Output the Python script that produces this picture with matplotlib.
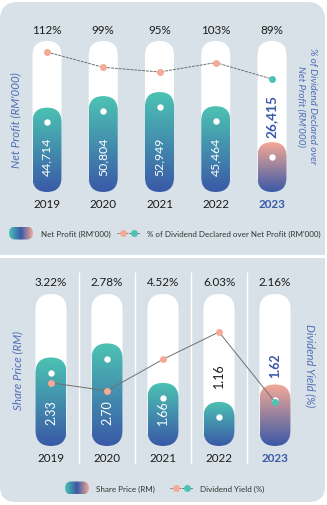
import matplotlib.pyplot as plt
import numpy as np
from matplotlib.colors import to_rgb
from matplotlib.patches import FancyBboxPatch, Rectangle

plt.rcParams['font.family'] = ['Lato', 'DejaVu Sans']

W, H = 327, 506

years = ['2019', '2020', '2021', '2022', '2023']
net_profit = [44714, 50804, 52949, 45464, 26415]
payout_pct = [112, 99, 95, 103, 89]
share_price = [2.33, 2.70, 1.66, 1.16, 1.62]
dividend_yield = [3.22, 2.78, 4.52, 6.03, 2.16]

PANEL = '#d7e1e7'
TEAL = '#4cc3b3'
BLUE = '#3a59a7'
SALMON = '#f5a996'
LABEL = '#4e6db7'
LINE = '#707070'
INK = '#1c1c1c'


def px_rect(x0, y0, x1, y1):
    return [x0 / W, 1 - y1 / H, (x1 - x0) / W, (y1 - y0) / H]


def data_per_px(ax):
    pos = ax.get_position()
    x0, x1 = ax.get_xlim()
    y0, y1 = ax.get_ylim()
    return (x1 - x0) / (pos.width * W), (y1 - y0) / (pos.height * H)


def capsule(ax, x, top, half_px, z, **kw):
    xu, yu = data_per_px(ax)
    hw = half_px * xu
    p = FancyBboxPatch((x - hw, 0), 2 * hw, top,
                       boxstyle=f'round,pad=0,rounding_size={hw}',
                       mutation_aspect=yu / xu, zorder=z, **kw)
    ax.add_patch(p)
    return p, hw, half_px * yu


def gradient_bar(ax, x, top, half_px, c_top, c_bot, z):
    p, hw, ry = capsule(ax, x, top, half_px, z, fc='none', ec='none')
    t = np.linspace(0, 1, 200)[:, None]
    img = (1 - t) * np.array(to_rgb(c_top)) + t * np.array(to_rgb(c_bot))
    im = ax.imshow(img[:, None, :], extent=(x - hw, x + hw, 0, top),
                   origin='upper', aspect='auto', zorder=z,
                   interpolation='bilinear')
    im.set_clip_path(p)
    ax.plot(x, top - ry, 'o', color='white', ms=4.6, mec='none', zorder=z + 1)
    return ry


def chart_axes(px_top, px_bottom, x_first, step, ymax):
    ax = fig.add_axes(px_rect(0, px_top, W, px_bottom), zorder=2)
    ax.set_xlim(-x_first / step, (W - x_first) / step)
    ax.set_ylim(0, ymax)
    ax.set_autoscale_on(False)
    ax.axis('off')
    return ax


def frac(px, px_top, px_bottom):
    return (px_bottom - px) / (px_bottom - px_top)


def legend_icons(y, x_bar, x_line):
    # gradient capsule
    box = FancyBboxPatch((x_bar, y - 6.5), 24, 13,
                         boxstyle='round,pad=0,rounding_size=6.5',
                         fc='none', ec='none', zorder=2)
    deco.add_patch(box)
    t = np.linspace(0, 1, 100)[None, :, None]
    left = (1 - t) * np.array(to_rgb(TEAL)) + t * np.array(to_rgb(BLUE))
    right = (1 - t) * np.array(to_rgb(BLUE)) + t * np.array(to_rgb(SALMON))
    img = np.concatenate([left, right], axis=1)
    im = deco.imshow(img, extent=(x_bar, x_bar + 24, y + 6.5, y - 6.5),
                     aspect='auto', zorder=2, interpolation='bilinear')
    im.set_clip_path(box)
    # line with two markers
    deco.plot([x_line, x_line + 23], [y, y], color=LINE, lw=0.7,
              ls=(0, (2, 1)), zorder=2)
    deco.plot(x_line + 6, y, 'o', color=SALMON, ms=5, mec='none', zorder=3)
    deco.plot(x_line + 17, y, 'o', color=TEAL, ms=5, mec='none', zorder=3)


fig = plt.figure(figsize=(W / 100, H / 100), dpi=100)

deco = fig.add_axes([0, 0, 1, 1], zorder=0)
deco.set_xlim(0, W)
deco.set_ylim(H, 0)
deco.set_autoscale_on(False)
deco.axis('off')
deco.add_patch(FancyBboxPatch((0, 240), 325, 263,
                              boxstyle='round,pad=0,rounding_size=16',
                              fc=PANEL, ec='none', zorder=0))
deco.add_patch(FancyBboxPatch((0, 3), 325, 287,
                              boxstyle='round,pad=0,rounding_size=18',
                              fc=PANEL, ec='none', zorder=0))
deco.add_patch(Rectangle((0, 256), W, 3, fc='white', ec='none', zorder=1))

x = np.arange(len(years))

# ---- top panel: net profit and payout ratio ----
T_TOP, T_BOT = 42, 193
ax1 = chart_axes(T_TOP, T_BOT, 47, 56.25, 80000)
for i, v in enumerate(net_profit):
    capsule(ax1, i, 80000, 14.5, 1, fc='white', ec='none')
    last = i == len(years) - 1
    gradient_bar(ax1, i, v, 14.5, SALMON if last else TEAL, BLUE, 2)
    xu, yu = data_per_px(ax1)
    if last:
        ax1.text(i, v + 5 * yu, f'{v:,}', rotation=90, ha='center',
                 va='bottom', color=BLUE, fontsize=9.8, fontweight='bold',
                 zorder=5)
    else:
        ax1.text(i, 19000, f'{v:,}', rotation=90, ha='center', va='center',
                 color='white', fontsize=8.8, zorder=5)

tw1 = ax1.twinx()
tw1.set_zorder(3)
tw1.set_ylim(-7.2, 121.4)
tw1.axis('off')
tw1.plot(x, payout_pct, color=LINE, lw=0.7, ls=(0, (3, 1)), zorder=1)
for i, v in enumerate(payout_pct):
    c = TEAL if i == len(years) - 1 else SALMON
    tw1.plot(i, v, 'o', color=c, ms=5, mec='none', zorder=2)

for i, (y, p) in enumerate(zip(years, payout_pct)):
    ax1.text(i, frac(31, T_TOP, T_BOT), f'{p}%', transform=ax1.get_xaxis_transform(),
             ha='center', va='center', fontsize=8.4, color=INK)
    last = i == len(years) - 1
    ax1.text(i, frac(205, T_TOP, T_BOT), y, transform=ax1.get_xaxis_transform(),
             ha='center', va='center', fontsize=8.4,
             color=BLUE if last else INK, fontweight='bold' if last else 'normal')

fig.text(16 / W, 1 - 120 / H, "Net Profit (RM'000)", rotation=90,
         ha='center', va='center', style='italic', color=LABEL, fontsize=8.4)
fig.text(306.5 / W, 1 - 106 / H, "% of Dividend Declared over\nNet Profit (RM'000)",
         rotation=270, ha='center', va='center', multialignment='center',
         style='italic', color=LABEL, fontsize=7.1, linespacing=1.35)

legend_icons(234, 9, 117)
deco.text(41, 234, "Net Profit (RM'000)", ha='left', va='center',
          fontsize=5.8, color='#333333')
deco.text(147, 234, "% of Dividend Declared over Net Profit (RM'000)",
          ha='left', va='center', fontsize=5.8, color='#333333')

# ---- bottom panel: share price and dividend yield ----
B_TOP, B_BOT = 295, 447
ax2 = chart_axes(B_TOP, B_BOT, 51, 56, 4.0)
ax2.vlines([0.5, 1.5, 2.5, 3.5], frac(465, B_TOP, B_BOT), frac(273, B_TOP, B_BOT),
           transform=ax2.get_xaxis_transform(), color='white', lw=1,
           clip_on=False, zorder=0)
label_gap = {3: 15, 4: 7}
for i, v in enumerate(share_price):
    capsule(ax2, i, 4.0, 15.5, 1, fc='white', ec='none')
    last = i == len(years) - 1
    gradient_bar(ax2, i, v, 15.5, SALMON if last else TEAL, BLUE, 2)
    xu, yu = data_per_px(ax2)
    if i in label_gap:
        ax2.text(i, v + label_gap[i] * yu, f'{v:.2f}', rotation=90,
                 ha='center', va='bottom', fontsize=9,
                 color=BLUE if last else INK,
                 fontweight='bold' if last else 'normal', zorder=5)
    else:
        ax2.text(i, 0.9, f'{v:.2f}', rotation=90, ha='center', va='center',
                 color='white', fontsize=9, zorder=5)

tw2 = ax2.twinx()
tw2.set_zorder(3)
tw2.set_ylim(-0.27, 8.13)
tw2.axis('off')
tw2.plot(x, dividend_yield, color=LINE, lw=0.7, zorder=1)
for i, v in enumerate(dividend_yield):
    c = TEAL if i == len(years) - 1 else SALMON
    tw2.plot(i, v, 'o', color=c, ms=5, mec='none', zorder=2)

for i, (y, d) in enumerate(zip(years, dividend_yield)):
    ax2.text(i, frac(283, B_TOP, B_BOT), f'{d:.2f}%', transform=ax2.get_xaxis_transform(),
             ha='center', va='center', fontsize=8.4, color=INK)
    last = i == len(years) - 1
    ax2.text(i, frac(459, B_TOP, B_BOT), y, transform=ax2.get_xaxis_transform(),
             ha='center', va='center', fontsize=8.4,
             color=BLUE if last else INK, fontweight='bold' if last else 'normal')

fig.text(18 / W, 1 - 370 / H, 'Share Price (RM)', rotation=90,
         ha='center', va='center', style='italic', color=LABEL, fontsize=8.3)
fig.text(310 / W, 1 - 366 / H, 'Dividend Yield (%)', rotation=270,
         ha='center', va='center', style='italic', color=LABEL, fontsize=8)

legend_icons(489, 65, 170)
deco.text(96, 489, 'Share Price (RM)', ha='left', va='center',
          fontsize=5.8, color='#333333')
deco.text(200, 489, 'Dividend Yield (%)', ha='left', va='center',
          fontsize=5.8, color='#333333')

fig.savefig('out.png', dpi=100, facecolor='white')
